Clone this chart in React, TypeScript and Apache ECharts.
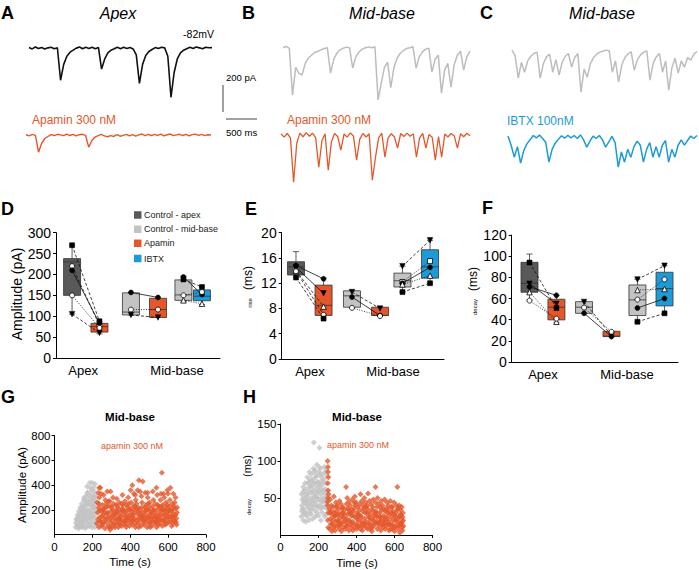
import React, { useEffect, useRef } from 'react';
import * as echarts from 'echarts';

// ---------------- Recorded traces (pA, one sample every 50 ms) ----------------
const traceApexControl = [4,-6,8,-3,5,-7,2,6,-4,3,-237,-120,-60,-30,-15,0,8,-5,6,-3,7,-4,5,-155,-80,-35,-15,-5,6,-4,7,-2,5,-6,-50,-260,-120,-55,-25,-10,4,-3,6,2,-60,-363,-180,-80,-35,-15,-4,6,-3,8,2,-5,7,3,4];
const traceApexApamin = [3,-5,6,-2,-126,-60,-25,-10,4,-3,6,2,-4,7,-3,5,-6,3,6,-2,-89,-40,-15,-4,5,-6,-12,-4,-10,3,-8,-2,6,-5,4,-7,2,8,-4,5,-3,6,-2,7,-5,3,8,-4,2,6,-3,5,-6,4,7,-2,5,-4,3,1];
const traceMidControlB = [-5,5,-10,-355,-150,-192,-207,-120,-80,-60,-40,-30,-20,-10,-5,-192,-90,-45,-20,-8,0,-5,-155,-70,-35,-15,-5,2,-4,3,-390,-266,-150,-110,-300,-150,-80,-45,-25,-10,-4,3,-155,-70,-35,-15,-8,-185,-90,-60,-340,-170,-120,-296,-130,-60,-30,-170,-70,-30];
const traceMidApaminB = [10,-15,12,-20,-348,-60,15,-12,18,-8,14,-18,-237,-40,10,-259,-50,12,-10,-111,8,-15,16,-6,-185,-30,12,-14,10,-333,-163,-20,14,-163,-20,10,-12,-96,12,-10,15,-8,10,-163,-20,12,-96,5,-15,-185,-10,-163,8,-14,12,-6,-96,10,-12,14,-5];
const traceMidControlC = [0,-40,-207,-90,-163,-80,-45,-25,-15,-207,-100,-50,-30,-163,-70,-185,-90,-45,-25,-126,-55,-25,-311,-140,-200,-100,-55,-30,-15,-8,0,-5,-163,-80,-237,-110,-55,-28,-12,-148,-70,-35,-15,-6,-222,-100,-50,-25,-163,-80,-296,-130,-60,-170,-80,-126,-55,-74,-30,-10];
const traceIbtxC = [8,-60,-148,-70,-192,-100,-50,-20,12,-6,15,-10,-40,-185,-90,-45,-15,10,-8,14,-5,12,-10,16,-20,-74,-30,8,-10,12,-20,-74,-35,5,-40,-222,-110,-185,-90,-148,-70,-30,-60,-185,-90,-40,-148,-70,-148,-60,-25,-185,-90,-148,-60,-20,-59,-25,8,-10,12];

// ---------------- Panel D/E/F: groups ----------------
const groupLabels = ['Apex', 'Mid-base'];
const legendNames = ['Control - apex', 'Control - mid-base', 'Apamin', 'IBTX'];

// box stats per group: [min, q1, median, q3, max]
// order: apex control, apex apamin, mid control, mid apamin, mid control, mid IBTX
const ampBoxes = [[105,150,230,238,270],[58,62,75,83,88],[103,103,110,156,156],[97,97,116,143,143],[136,138,151,187,196],[128,137,148,163,170]];
const riseBoxes = [[12.9,13.3,14.6,15.4,17.0],[6.5,6.9,8.5,11.7,12.8],[8.1,8.2,10.0,10.8,10.8],[6.8,6.9,6.9,8.2,8.2],[10.6,11.4,12.4,13.6,14.7],[12.0,12.8,14.6,17.3,18.8]];
const decayBoxes = [[58.7,65.9,74.4,94.2,102],[37.6,39.8,51.8,59.3,63],[46,46,51.8,57,57],[24,24,24.5,29,29],[37.6,43.9,58.7,72.8,78.2],[46,53,69.4,84.8,91]];

// paired cells (amplitude, pA)
const ampApexControl = [270,220,210,150,105];
const ampApexApamin = [88,78,83,72,60];
const ampMidControl = [157,116,103];
const ampMidApamin = [145,116,97];
const ampMidControl2 = [194,188,150,138];
const ampMidIbtx = [152,170,158,130];
// paired cells (rise, ms)
const riseApexControl = [14.8,14.5,14.0,13.9,12.9];
const riseApexApamin = [12.7,10.4,8.3,7.0,6.4];
const riseMidControl = [10.6,9.8,8.1];
const riseMidApamin = [8.0,6.9,6.8];
const riseMidControl2 = [14.7,12.2,12.0,11.8,10.6];
const riseMidIbtx = [18.8,15.5,14.5,13.2,12.0];
// paired cells (decay, ms)
const decayApexControl = [94,74,71,66,58];
const decayApexApamin = [51,55,63,38,41];
const decayMidControl = [56.8,51.4,46.1];
const decayMidApamin = [25,28.5,24];
const decayMidControl2 = [78,68,59,51,38];
const decayMidIbtx = [91,69,78,60,46];

// ---------------- Panel G/H: events over time [time (s), value] ----------------
const ampControlEvents = [[112,60],[114,95],[117,130],[119,72],[121,160],[124,110],[126,50],[129,190],[131,85],[134,140],[136,220],[139,65],[141,170],[144,250],[146,105],[149,200],[151,75],[154,280],[156,140],[159,230],[161,55],[164,180],[166,310],[169,120],[171,260],[174,90],[176,340],[179,200],[181,150],[184,290],[186,70],[189,380],[191,240],[194,130],[196,320],[199,420],[201,180],[204,270],[206,100],[209,350],[211,220],[214,410],[216,140],[219,300],[221,80],[158,100],[168,60],[178,260],[188,180],[198,60],[208,300],[218,200],[143,120],[153,160],[163,280],[173,340],[183,110],[193,90],[203,230],[213,60],[128,150],[138,100],[148,60],[186,420],[196,360],[172,390],[162,240],[152,230],[206,380],[216,250],[132,110],[122,80],[182,70],[192,280],[202,140],[115,120],[125,70],[135,180],[145,90],[155,200],[165,130],[175,240],[185,140],[195,210],[205,160],[215,320],[220,180],[118,100],[133,60],[147,150],[157,300],[167,200],[177,170],[187,250],[197,170],[207,220],[217,100],[127,130],[142,210],[162,160],[182,320],[202,300],[212,270]];
const ampApaminEvents = [[224,90],[228,180],[226,260],[231,340],[235,60],[238,140],[233,220],[237,300],[244,110],[247,190],[242,380],[249,70],[254,80],[257,160],[252,240],[259,320],[264,130],[267,50],[262,210],[268,280],[274,100],[277,170],[272,250],[279,350],[284,70],[287,150],[282,230],[289,120],[294,40],[297,190],[292,270],[299,90],[304,110],[307,160],[302,220],[309,300],[314,80],[317,140],[312,250],[319,60],[324,120],[327,200],[322,170],[329,290],[334,90],[337,60],[332,230],[339,150],[344,130],[347,180],[342,260],[349,100],[354,70],[357,210],[352,150],[359,320],[364,110],[367,160],[362,240],[369,80],[374,140],[377,190],[372,270],[379,60],[384,90],[387,220],[382,170],[389,300],[394,120],[397,70],[392,250],[399,160],[404,100],[407,190],[411,400],[409,140],[414,80],[417,230],[412,160],[419,330],[424,130],[427,60],[422,200],[429,280],[434,110],[437,170],[432,250],[439,360],[444,90],[447,140],[442,220],[446,440],[454,150],[457,70],[452,200],[459,310],[464,120],[467,180],[462,260],[466,430],[474,80],[477,220],[472,150],[479,340],[484,110],[487,160],[482,240],[489,60],[494,140],[497,200],[492,300],[499,90],[504,100],[507,170],[502,260],[509,130],[514,70],[517,230],[512,180],[519,350],[524,120],[527,150],[522,280],[529,90],[534,100],[537,200],[532,250],[539,60],[544,130],[547,170],[542,320],[549,80],[554,90],[557,210],[552,150],[559,280],[564,120],[567,500],[562,190],[569,70],[574,110],[577,160],[572,240],[579,300],[584,80],[587,200],[582,140],[589,260],[594,130],[597,180],[592,90],[599,330],[604,100],[607,230],[602,160],[609,280],[614,140],[617,190],[612,380],[619,70],[624,90],[627,170],[622,250],[629,120],[634,110],[637,210],[632,150],[639,300],[644,130],[647,180],[642,100],[648,220],[236,380],[246,330],[296,350],[402,360],[426,320],[452,350],[492,340],[538,380],[562,330],[576,330],[596,360],[628,330],[230,120],[240,200],[250,150],[260,100],[270,220],[280,180],[290,60],[300,140],[310,200],[320,90],[330,180],[340,210],[350,120],[360,190],[370,100],[380,240],[390,140],[400,210],[410,110],[420,170],[430,90],[440,190],[450,120],[460,220],[470,100],[480,190],[490,130],[500,220],[510,150],[520,200],[530,170],[540,110],[550,230],[560,160],[570,200],[580,110],[590,220],[600,140],[610,200],[620,150],[630,230],[640,160],[235,250],[255,200],[275,130],[295,230],[315,170],[335,120],[355,250],[375,110],[395,200],[415,120],[435,210],[455,170],[475,120],[495,250],[515,110],[535,140],[555,120],[575,200],[595,240],[615,110],[635,260],[645,80],[245,100],[265,180],[285,270],[305,60],[325,240],[345,80],[365,200],[385,130],[405,260],[425,230],[445,60],[465,150],[485,200],[505,60],[525,200],[545,240],[565,230],[585,170],[605,200],[625,210]];
const decayControlEvents = [[110,25],[112,40],[111,55],[113,32],[120,20],[122,45],[119,65],[121,35],[123,50],[130,30],[132,55],[129,70],[131,42],[133,18],[140,25],[142,48],[139,62],[141,78],[143,38],[150,35],[152,58],[149,72],[151,20],[153,85],[160,28],[162,50],[159,66],[161,82],[163,40],[170,22],[172,45],[169,60],[171,75],[173,90],[180,33],[182,52],[179,70],[181,88],[183,25],[190,40],[192,58],[189,80],[191,95],[193,30],[200,26],[202,48],[199,65],[201,85],[203,92],[210,35],[212,55],[209,72],[211,90],[213,20],[220,30],[222,50],[219,68],[221,82],[223,45],[230,38],[232,60],[229,75],[231,92],[233,25],[240,28],[242,52],[239,70],[241,88],[243,42],[245,35],[246,60],[244,80],[247,50],[175,125],[205,118],[115,48],[125,28],[135,45],[145,55],[155,45],[165,35],[175,55],[185,45],[195,50],[205,40],[215,62],[225,58],[235,48],[165,72],[185,62],[215,78],[235,85],[155,65],[195,72],[115,35],[125,60],[135,30],[145,70],[155,30],[165,58],[175,40],[185,78],[195,38],[205,68],[215,45],[225,72],[235,62],[245,45],[118,58],[128,45],[138,52],[148,42],[158,75],[168,48],[178,85],[188,52],[198,58],[208,82],[218,38],[228,48],[238,55],[190,70],[210,60],[170,67]];
const decayApaminEvents = [[248,100],[250,85],[249,70],[251,60],[250,50],[248,40],[252,30],[249,20],[251,10],[250,92],[252,78],[253,55],[247,45],[260,8],[263,22],[258,35],[262,48],[270,15],[272,28],[268,40],[271,5],[280,10],[283,25],[278,38],[281,52],[290,18],[292,32],[288,6],[291,44],[300,12],[303,27],[298,40],[301,20],[310,8],[312,22],[308,35],[311,46],[320,16],[323,30],[318,42],[321,5],[330,10],[332,24],[328,38],[331,18],[342,20],[338,34],[345,65],[341,8],[350,12],[353,28],[348,42],[351,50],[360,6],[362,20],[358,34],[361,45],[370,14],[373,26],[368,40],[371,10],[380,18],[382,32],[378,48],[381,6],[390,10],[393,24],[388,36],[391,52],[400,15],[402,30],[398,44],[401,8],[410,20],[413,12],[408,38],[411,28],[420,8],[422,26],[418,42],[421,55],[430,16],[433,32],[428,46],[431,6],[440,12],[442,22],[438,36],[441,50],[450,18],[453,30],[448,44],[451,10],[460,8],[462,25],[458,40],[461,56],[470,14],[473,28],[468,46],[471,20],[480,10],[482,34],[478,42],[481,5],[490,20],[493,26],[488,48],[491,12],[500,65],[502,16],[498,32],[501,44],[510,8],[512,24],[508,38],[511,50],[520,12],[523,30],[518,42],[521,18],[530,20],[532,34],[528,6],[531,46],[540,10],[543,26],[538,40],[541,15],[550,16],[552,32],[548,48],[551,8],[560,12],[563,22],[558,36],[561,44],[570,18],[572,28],[568,40],[571,6],[580,8],[583,24],[578,46],[581,14],[590,14],[592,32],[588,38],[591,20],[600,10],[603,26],[598,44],[601,5],[615,65],[612,18],[608,30],[611,40],[620,8],[622,22],[618,36],[621,12],[630,16],[632,28],[628,3],[631,34],[640,10],[642,24],[638,38],[641,18],[645,20],[647,12],[644,30],[265,15],[285,30],[305,18],[325,25],[345,12],[365,30],[385,15],[405,22],[425,18],[445,30],[465,15],[485,22],[505,18],[525,25],[545,20],[565,15],[585,30],[605,20],[625,25],[635,15],[262,30],[275,20],[285,12],[295,38],[305,28],[315,14],[325,36],[335,28],[347,22],[355,36],[365,18],[375,34],[385,26],[395,40],[405,12],[415,34],[425,24],[435,40],[445,16],[455,36],[465,32],[475,8],[485,38],[495,30],[505,26],[515,16],[525,38],[535,14],[545,34],[555,24],[565,30],[575,14],[585,38],[595,28],[605,12],[615,34],[625,40],[635,26],[642,6],[268,32],[288,26],[308,14],[328,30],[348,16],[368,30],[388,44],[408,26],[428,12],[448,38],[468,24],[488,16],[508,30],[528,24],[548,20],[568,34],[588,8],[608,24],[628,14]];

// ---------------- styling ----------------
const FONT = 'Liberation Sans, Arial, Helvetica, sans-serif';
const C_DARK = '#595959';
const C_LIGHT = '#c3c3c3';
const C_ORANGE = '#e5572b';
const C_BLUE = '#1c9bd7';
const C_TRACE_GRAY = '#bdbdbd';
const boxColors = [C_DARK, C_ORANGE, C_LIGHT, C_ORANGE, C_LIGHT, C_BLUE];
const legendColors = [C_DARK, C_LIGHT, C_ORANGE, C_BLUE];

const DASH: Record<string, any> = { solid: 'solid', dashed: [3, 2], dotted: [1, 1.5] };

function marker(kind: string) {
  switch (kind) {
    case 'fsq': return { symbol: 'rect', symbolSize: 5, itemStyle: { color: '#000', borderColor: '#000', borderWidth: 0.5 } };
    case 'osq': return { symbol: 'rect', symbolSize: 5, itemStyle: { color: '#fff', borderColor: '#000', borderWidth: 0.8 } };
    case 'fc': return { symbol: 'circle', symbolSize: 5, itemStyle: { color: '#000', borderColor: '#000', borderWidth: 0.5 } };
    case 'oc': return { symbol: 'circle', symbolSize: 5, itemStyle: { color: '#fff', borderColor: '#000', borderWidth: 0.8 } };
    case 'ot': return { symbol: 'triangle', symbolSize: 5.5, itemStyle: { color: '#fff', borderColor: '#000', borderWidth: 0.8 } };
    default: return { symbol: 'triangle', symbolSize: 5.5, symbolRotate: 180, itemStyle: { color: '#000', borderColor: '#000', borderWidth: 0.5 } };
  }
}

function boxSeries(gi: number, pos: number[], boxes: number[][]) {
  return {
    type: 'custom', xAxisIndex: gi, yAxisIndex: gi, silent: true, z: 2,
    encode: { x: 0, y: [1, 2, 3, 4, 5] },
    data: boxes.map((b, i) => [pos[i], ...b]),
    renderItem: (params: any, api: any) => {
      const x = api.value(0);
      const [mn, q1, md, q3, mx] = [1, 2, 3, 4, 5].map((k) => api.value(k));
      const c = (v: number) => api.coord([x, v]);
      const pMn = c(mn), pQ1 = c(q1), pMd = c(md), pQ3 = c(q3), pMx = c(mx);
      const cx = pMd[0];
      const hw = 8.5, cap = 3;
      const ls = { stroke: '#333', lineWidth: 0.8 };
      return {
        type: 'group',
        children: [
          { type: 'line', shape: { x1: cx, y1: pMx[1], x2: cx, y2: pQ3[1] }, style: ls },
          { type: 'line', shape: { x1: cx - cap, y1: pMx[1], x2: cx + cap, y2: pMx[1] }, style: ls },
          { type: 'line', shape: { x1: cx, y1: pQ1[1], x2: cx, y2: pMn[1] }, style: ls },
          { type: 'line', shape: { x1: cx - cap, y1: pMn[1], x2: cx + cap, y2: pMn[1] }, style: ls },
          { type: 'rect', shape: { x: cx - hw, y: pQ3[1], width: 2 * hw, height: pQ1[1] - pQ3[1] }, style: { fill: boxColors[params.dataIndex], stroke: '#333', lineWidth: 0.8 } },
          { type: 'line', shape: { x1: cx - hw, y1: pMd[1], x2: cx + hw, y2: pMd[1] }, style: ls },
        ],
      };
    },
  };
}

type Pair = { from: number; to: number; a: number[]; b: number[]; marks: string[]; dash: string[] };

function pairSeries(gi: number, pos: number[], pairs: Pair[]) {
  const out: any[] = [];
  pairs.forEach((p) => {
    p.a.forEach((va, i) => {
      const m = marker(p.marks[i]);
      out.push({
        type: 'line', xAxisIndex: gi, yAxisIndex: gi, z: 5, silent: true, showSymbol: true, showAllSymbol: true,
        lineStyle: { color: '#111', width: 0.8, type: DASH[p.dash[i]] },
        data: [{ value: [pos[p.from], va], ...m }, { value: [pos[p.to], p.b[i]], ...m }],
      });
    });
  });
  return out;
}

const posD = [0.98, 2.65, 4.57, 6.22, 7.77, 8.9];
const posE = [0.88, 2.58, 4.33, 6.06, 7.44, 9.14];
const posF = [1.07, 2.69, 4.35, 6.0, 7.56, 9.19];
const labelPosD = [1.65, 7.38];
const labelPosE = [1.74, 6.86];
const labelPosF = [1.88, 6.93];

const pairsD: Pair[] = [
  { from: 0, to: 1, a: ampApexControl, b: ampApexApamin, marks: ['fsq', 'oc', 'fc', 'oc', 'ftri'], dash: ['dashed', 'dashed', 'solid', 'dotted', 'dashed'] },
  { from: 2, to: 3, a: ampMidControl, b: ampMidApamin, marks: ['fc', 'oc', 'ftri'], dash: ['solid', 'dotted', 'dashed'] },
  { from: 4, to: 5, a: ampMidControl2, b: ampMidIbtx, marks: ['fc', 'fsq', 'oc', 'ot'], dash: ['solid', 'dashed', 'dotted', 'dotted'] },
];
const pairsE: Pair[] = [
  { from: 0, to: 1, a: riseApexControl, b: riseApexApamin, marks: ['fc', 'ftri', 'ot', 'oc', 'fsq'], dash: ['solid', 'solid', 'dashed', 'dashed', 'dashed'] },
  { from: 2, to: 3, a: riseMidControl, b: riseMidApamin, marks: ['ftri', 'fc', 'oc'], dash: ['dashed', 'solid', 'dotted'] },
  { from: 4, to: 5, a: riseMidControl2, b: riseMidIbtx, marks: ['ftri', 'osq', 'fc', 'ot', 'fsq'], dash: ['dashed', 'dotted', 'solid', 'dotted', 'dashed'] },
];
const pairsF: Pair[] = [
  { from: 0, to: 1, a: decayApexControl, b: decayApexApamin, marks: ['fsq', 'ftri', 'fc', 'ot', 'oc'], dash: ['dashed', 'solid', 'solid', 'dotted', 'dotted'] },
  { from: 2, to: 3, a: decayMidControl, b: decayMidApamin, marks: ['ftri', 'oc', 'fc'], dash: ['dashed', 'dotted', 'solid'] },
  { from: 4, to: 5, a: decayMidControl2, b: decayMidIbtx, marks: ['ftri', 'ot', 'oc', 'fc', 'fsq'], dash: ['dashed', 'dotted', 'dotted', 'solid', 'dashed'] },
];

const traces = [traceApexControl, traceApexApamin, traceMidControlB, traceMidApaminB, traceMidControlC, traceIbtxC];
const traceColors = ['#111', C_ORANGE, C_TRACE_GRAY, C_ORANGE, C_TRACE_GRAY, C_BLUE];
const traceWidths = [1.6, 1.4, 1.5, 1.3, 1.5, 1.5];
const traceGrids = [
  { left: 29, top: 40, width: 183, height: 65 },
  { left: 26, top: 127, width: 185, height: 65 },
  { left: 283, top: 39, width: 187, height: 65 },
  { left: 281, top: 127, width: 189, height: 65 },
  { left: 512, top: 42, width: 185, height: 65 },
  { left: 508, top: 129, width: 189, height: 65 },
];

function txt(text: string, x: number, y: number, o: any = {}) {
  return {
    type: 'text', x, y, rotation: o.rot || 0, silent: true,
    style: {
      text, fill: o.color || '#000', fontSize: o.size || 12, fontWeight: o.weight || 'normal',
      fontStyle: o.style || 'normal', fontFamily: FONT, align: o.align || 'center', verticalAlign: 'middle',
    },
  };
}

function buildOption() {
  const grids: any[] = [
    ...traceGrids,
    { left: 56, top: 232.7, width: 164, height: 125.3 },
    { left: 281.7, top: 232.7, width: 162.3, height: 126.3 },
    { left: 511.7, top: 235, width: 166.3, height: 127 },
    { left: 54.5, top: 435.7, width: 151.5, height: 99 },
    { left: 280.5, top: 424, width: 152, height: 111 },
  ].map((g) => ({ ...g, containLabel: false, outerBoundsMode: 'none', show: false }));

  const xAxes: any[] = [];
  const yAxes: any[] = [];
  traces.forEach((t, i) => {
    xAxes.push({ gridIndex: i, type: 'value', min: 0, max: t.length - 1, show: false });
    yAxes.push({ gridIndex: i, type: 'value', min: -420, max: 60, show: false });
  });

  const boxX = (gi: number, lp: number[]) => ({
    gridIndex: gi, type: 'value', min: 0, max: 10,
    axisLine: { show: true, onZero: false, lineStyle: { color: '#000', width: 1 } },
    axisTick: { show: false }, splitLine: { show: false },
    axisLabel: {
      customValues: lp, fontSize: 13, color: '#000', margin: 6, fontFamily: FONT,
      formatter: (v: number) => (Math.abs(v - lp[0]) < 1e-6 ? groupLabels[0] : groupLabels[1]),
    },
  });
  const boxY = (gi: number, max: number, interval: number) => ({
    gridIndex: gi, type: 'value', min: 0, max, interval,
    axisLine: { show: true, onZero: false, lineStyle: { color: '#000', width: 1 } },
    axisTick: { show: true, length: 3, lineStyle: { color: '#000' } },
    splitLine: { show: false },
    axisLabel: { fontSize: 14, color: '#000', margin: 5, fontFamily: FONT },
  });
  xAxes.push(boxX(6, labelPosD), boxX(7, labelPosE), boxX(8, labelPosF));
  yAxes.push(boxY(6, 300, 50), boxY(7, 20, 4), boxY(8, 120, 20));

  const scX = (gi: number) => ({
    gridIndex: gi, type: 'value', min: 0, max: 800, interval: 200,
    axisLine: { show: true, onZero: false, lineStyle: { color: '#000', width: 1 } },
    axisTick: { show: true, length: 3, lineStyle: { color: '#000' } },
    splitLine: { show: false },
    axisLabel: { fontSize: 11.5, color: '#000', margin: 6, fontFamily: FONT },
  });
  const scY = (gi: number, max: number, interval: number) => ({
    gridIndex: gi, type: 'value', min: 0, max, interval,
    axisLine: { show: true, onZero: false, lineStyle: { color: '#000', width: 1 } },
    axisTick: { show: true, length: 3, lineStyle: { color: '#000' } },
    splitLine: { show: false },
    axisLabel: { fontSize: 11.5, color: '#000', margin: 4, showMinLabel: false, fontFamily: FONT },
  });
  xAxes.push(scX(9), scX(10));
  yAxes.push(scY(9, 800, 200), scY(10, 150, 50));

  const series: any[] = [];
  traces.forEach((t, i) => {
    series.push({
      type: 'line', xAxisIndex: i, yAxisIndex: i, silent: true, symbol: 'none', showSymbol: false,
      lineStyle: { color: traceColors[i], width: traceWidths[i] },
      data: t.map((v, k) => [k, v]),
    });
  });
  series.push(boxSeries(6, posD, ampBoxes), boxSeries(7, posE, riseBoxes), boxSeries(8, posF, decayBoxes));
  series.push(...pairSeries(6, posD, pairsD), ...pairSeries(7, posE, pairsE), ...pairSeries(8, posF, pairsF));

  const sc = (gi: number, data: number[][], color: string) => ({
    type: 'scatter', xAxisIndex: gi, yAxisIndex: gi, silent: true, symbol: 'diamond', symbolSize: 6,
    itemStyle: { color }, data,
  });
  series.push(sc(9, ampControlEvents, C_LIGHT), sc(9, ampApaminEvents, C_ORANGE));
  series.push(sc(10, decayControlEvents, C_LIGHT), sc(10, decayApaminEvents, C_ORANGE));

  const legendRows = [215, 229.3, 243.3, 258.5];
  const graphics: any[] = [
    txt('A', 1, 13, { size: 18, weight: 'bold', align: 'left' }),
    txt('B', 242, 13, { size: 18, weight: 'bold', align: 'left' }),
    txt('C', 480, 13, { size: 18, weight: 'bold', align: 'left' }),
    txt('D', 1, 209, { size: 18, weight: 'bold', align: 'left' }),
    txt('E', 245, 209, { size: 18, weight: 'bold', align: 'left' }),
    txt('F', 482, 208, { size: 18, weight: 'bold', align: 'left' }),
    txt('G', 1, 397, { size: 18, weight: 'bold', align: 'left' }),
    txt('H', 243, 397, { size: 18, weight: 'bold', align: 'left' }),
    txt('Apex', 118, 13, { size: 16, style: 'italic' }),
    txt('Mid-base', 382, 13, { size: 16, style: 'italic' }),
    txt('Mid-base', 602, 13, { size: 16, style: 'italic' }),
    txt('-82mV', 214, 34, { size: 10.5, align: 'right' }),
    txt('Apamin 300 nM', 32, 120, { size: 12, color: C_ORANGE, align: 'left' }),
    txt('Apamin 300 nM', 287, 120, { size: 12, color: C_ORANGE, align: 'left' }),
    txt('IBTX 100nM', 507, 121, { size: 12, color: C_BLUE, align: 'left' }),
    { type: 'line', silent: true, shape: { x1: 223, y1: 85, x2: 223, y2: 112 }, style: { stroke: '#444', lineWidth: 1 } },
    { type: 'line', silent: true, shape: { x1: 226, y1: 119, x2: 257, y2: 119 }, style: { stroke: '#444', lineWidth: 1 } },
    txt('200 pA', 226, 77, { size: 9.5, align: 'left' }),
    txt('500 ms', 226, 132, { size: 9.5, align: 'left' }),
    txt('Amplitude (pA)', 17, 294, { size: 14, rot: Math.PI / 2 }),
    txt('(ms)', 248, 278, { size: 12, rot: Math.PI / 2 }),
    txt('rise', 249.5, 303, { size: 6, rot: Math.PI / 2 }),
    txt('(ms)', 473, 279, { size: 12, rot: Math.PI / 2 }),
    txt('decay', 474.5, 307, { size: 6, rot: Math.PI / 2 }),
    txt('Amplitude (pA)', 21.5, 485, { size: 11.5, rot: Math.PI / 2 }),
    txt('(ms)', 247, 466, { size: 11, rot: Math.PI / 2 }),
    txt('decay', 248.5, 507, { size: 6, rot: Math.PI / 2 }),
    txt('Time (s)', 130, 562, { size: 11.5 }),
    txt('Time (s)', 357, 563, { size: 11.5 }),
    txt('Mid-base', 130, 417, { size: 11.5, weight: 'bold' }),
    txt('Mid-base', 357, 417, { size: 11.5, weight: 'bold' }),
    txt('apamin 300 nM', 132, 446, { size: 9, color: C_ORANGE }),
    txt('apamin 300 nM', 358, 445, { size: 9, color: C_ORANGE }),
  ];
  legendNames.forEach((n, i) => {
    graphics.push({ type: 'rect', silent: true, shape: { x: 134, y: legendRows[i] - 3.75, width: 7.5, height: 7.5 }, style: { fill: legendColors[i] } });
    graphics.push(txt(n, 144, legendRows[i], { size: 9, align: 'left', color: '#222' }));
  });

  return {
    animation: false,
    backgroundColor: '#fff',
    textStyle: { fontFamily: FONT },
    grid: grids,
    xAxis: xAxes,
    yAxis: yAxes,
    series,
    graphic: graphics,
  };
}

export default function App() {
  const ref = useRef<HTMLDivElement>(null);
  useEffect(() => {
    if (!ref.current) return;
    const chart = echarts.init(ref.current, null, { renderer: 'svg' });
    chart.setOption(buildOption() as any);
    return () => chart.dispose();
  }, []);
  return <div ref={ref} style={{ position: 'fixed', left: 0, top: 0, width: 699, height: 570, background: '#fff' }} />;
}
